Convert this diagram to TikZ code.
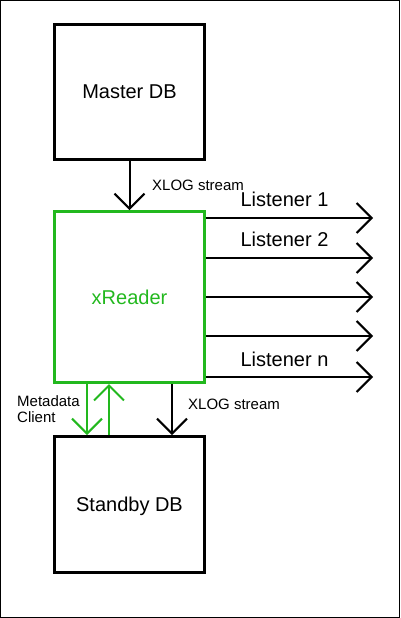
\documentclass[tikz,border=0pt]{standalone}
\usepackage{fontspec}
\setmainfont{Liberation Sans}
\usetikzlibrary{positioning,arrows.meta,calc}
\definecolor{readergreen}{RGB}{34,184,30}

\begin{document}
\begin{tikzpicture}[
    x=1pt, y=-1pt,
    dbbox/.style={rectangle, draw=black, line width=3pt, minimum width=150pt,
      minimum height=135pt, align=center, font=\fontsize{20}{23}\selectfont},
    readerbox/.style={dbbox, draw=readergreen, text=readergreen, minimum height=171pt},
    flowlabel/.style={inner sep=0pt, font=\fontsize{15}{16}\selectfont},
    listlabel/.style={inner sep=0pt, font=\fontsize{20}{23}\selectfont},
    arrow/.style={-{Straight Barb[length=15pt, width=30pt]}, line width=2pt, draw=black},
    greenarrow/.style={arrow, draw=readergreen}
  ]
    \useasboundingbox (0,0) rectangle (400,618);
    \draw[line width=1pt] (0.5,0.5) rectangle (399.5,617.5);

    \node[dbbox]     (master)  at (129.5,92)    {Master DB};
    \node[readerbox] (xreader) at (129.5,297)   {xReader};
    \node[dbbox, minimum height=136pt, text depth=-10pt] (standby) at (129.5,504.5) {Standby DB};

    \coordinate (out1) at (373,218);
    \coordinate (out2) at (373,258);
    \coordinate (out3) at (373,297);
    \coordinate (out4) at (373,336);
    \coordinate (out5) at (373,377);

    \draw[arrow] (master) -- (xreader);
    \node[flowlabel, anchor=base west] (xlogin) at (152,190) {XLOG stream};

    \draw[arrow] (xreader.east |- out1) -- (out1)
      node[listlabel, pos=0.47, above=10pt] (lis1) {Listener 1};
    \draw[arrow] (xreader.east |- out2) -- (out2)
      node[listlabel, pos=0.47, above=10pt] (lis2) {Listener 2};
    \draw[arrow] (xreader.east |- out3) -- (out3);
    \draw[arrow] (xreader.east |- out4) -- (out4);
    \draw[arrow] (xreader.east |- out5) -- (out5)
      node[listlabel, pos=0.47, above=9pt] (lisn) {Listener n};

    \draw[greenarrow] ([xshift=-42.5pt]xreader.south) -- ([xshift=-42.5pt]standby.north);
    \draw[greenarrow] ([xshift=-20.5pt]standby.north) -- ([xshift=-20.5pt]xreader.south);
    \draw[arrow] ([xshift=42.5pt]xreader.south) -- ([xshift=42.5pt]standby.north);

    \node[flowlabel, anchor=north west, align=left] (meta) at (17,395) {Metadata\\Client};
    \node[flowlabel, anchor=base west] (xlogout) at (188,409) {XLOG stream};
  \end{tikzpicture}
\end{document}
